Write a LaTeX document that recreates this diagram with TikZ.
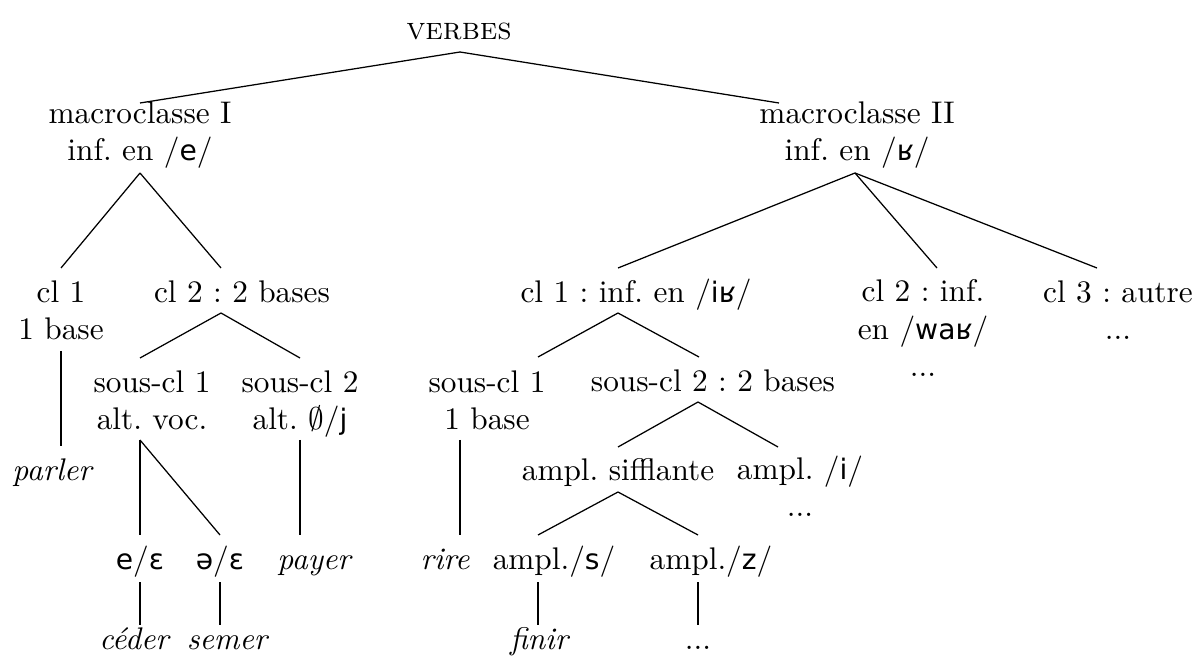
\documentclass[tikz,border=0pt]{standalone}
\usepackage{fontspec}
\newfontfamily\ipafont{DejaVu Sans}[Scale=0.9]
\usetikzlibrary{positioning}
\frenchspacing

\begin{document}
\begin{tikzpicture}[x=0.3195pt, y=-0.3195pt,
    lbl/.style={inner sep=0pt, anchor=base, align=center},
    ex/.style={lbl, font=\itshape}]
    \useasboundingbox (0,0) rectangle (1197,662);
    % racine et macroclasses
    \node[lbl] (verbes) at (459,40) {\textsc{verbes}};
    \node[lbl] (mI) at (140,161) {macroclasse I\\inf. en /{\ipafont e}/};
    \node[lbl] (mII) at (857,161) {macroclasse II\\inf. en /{\ipafont ʁ}/};
    % macroclasse I
    \node[lbl] (c1) at (61,340) {cl 1\\1 base};
    \node[lbl] (c2) at (242,303) {cl 2 : 2 bases};
    \node[ex] (parler) at (52,480) {parler};
    \node[lbl] (sc1) at (152,430) {sous-cl 1\\alt. voc.};
    \node[lbl] (sc2) at (300,430) {sous-cl 2\\alt. $\emptyset$/{\ipafont j}};
    \node[lbl] (ee) at (140,570) {{\ipafont e}/{\ipafont ɛ}};
    \node[lbl] (schwa) at (220,570) {{\ipafont ə}/{\ipafont ɛ}};
    \node[ex] (payer) at (314,570) {payer};
    \node[ex] (ceder) at (134,650) {céder};
    \node[ex] (semer) at (227,650) {semer};
    % macroclasse II
    \node[lbl] (r1) at (636,303) {cl 1 : inf. en /{\ipafont iʁ}/};
    \node[lbl] (r2) at (923,377) {cl 2 : inf.\\en /{\ipafont waʁ}/\\...};
    \node[lbl] (r3) at (1118,340) {cl 3 : autre\\...};
    \node[lbl] (rs1) at (487,430) {sous-cl 1\\1 base};
    \node[lbl] (rs2) at (713,392) {sous-cl 2 : 2 bases};
    \node[ex] (rire) at (445,570) {rire};
    \node[lbl] (as) at (618,480) {ampl. sifflante};
    \node[lbl] (ai) at (800,517) {ampl. /{\ipafont i}/\\...};
    \node[lbl] (sz) at (554,570) {ampl./{\ipafont s}/};
    \node[lbl] (zz) at (711,570) {ampl./{\ipafont z}/};
    \node[ex] (finir) at (539,650) {finir};
    \node[lbl] (dots) at (698,650) {...};

    \draw ([shift={(1,12)}]verbes.base) -- ([shift={(0,-58)}]mI.base);
    \draw ([shift={(1,12)}]verbes.base) -- ([shift={(-78,-58)}]mII.base);
    \draw ([shift={(0,12)}]mI.base) -- ([shift={(0,-72)}]c1.base);
    \draw ([shift={(0,12)}]mI.base) -- ([shift={(-21,-35)}]c2.base);
    \draw ([shift={(-2,12)}]mII.base) -- ([shift={(-18,-35)}]r1.base);
    \draw ([shift={(-2,12)}]mII.base) -- ([shift={(14,-109)}]r2.base);
    \draw ([shift={(-2,12)}]mII.base) -- ([shift={(-21,-72)}]r3.base);
    \draw ([shift={(0,11)}]c1.base) -- ([shift={(9,-34)}]parler.base);
    \draw ([shift={(-21,10)}]c2.base) -- ([shift={(-12,-72)}]sc1.base);
    \draw ([shift={(-21,10)}]c2.base) -- ([shift={(0,-72)}]sc2.base);
    \draw ([shift={(-12,10)}]sc1.base) -- ([shift={(0,-35)}]ee.base);
    \draw ([shift={(-12,10)}]sc1.base) -- ([shift={(0,-35)}]schwa.base);
    \draw ([shift={(0,10)}]sc2.base) -- ([shift={(-14,-35)}]payer.base);
    \draw ([shift={(0,12)}]ee.base) -- ([shift={(6,-25)}]ceder.base);
    \draw ([shift={(0,12)}]schwa.base) -- ([shift={(-7,-25)}]semer.base);
    \draw ([shift={(-18,10)}]r1.base) -- ([shift={(51,-73)}]rs1.base);
    \draw ([shift={(-18,10)}]r1.base) -- ([shift={(-14,-35)}]rs2.base);
    \draw ([shift={(-27,10)}]rs1.base) -- ([shift={(15,-35)}]rire.base);
    \draw ([shift={(-15,10)}]rs2.base) -- ([shift={(0,-33)}]as.base);
    \draw ([shift={(-15,10)}]rs2.base) -- ([shift={(-22,-70)}]ai.base);
    \draw ([shift={(0,12)}]as.base) -- ([shift={(-16,-35)}]sz.base);
    \draw ([shift={(0,12)}]as.base) -- ([shift={(-13,-35)}]zz.base);
    \draw ([shift={(-16,12)}]sz.base) -- ([shift={(-1,-25)}]finir.base);
    \draw ([shift={(-13,12)}]zz.base) -- ([shift={(0,-25)}]dots.base);
\end{tikzpicture}
\end{document}
